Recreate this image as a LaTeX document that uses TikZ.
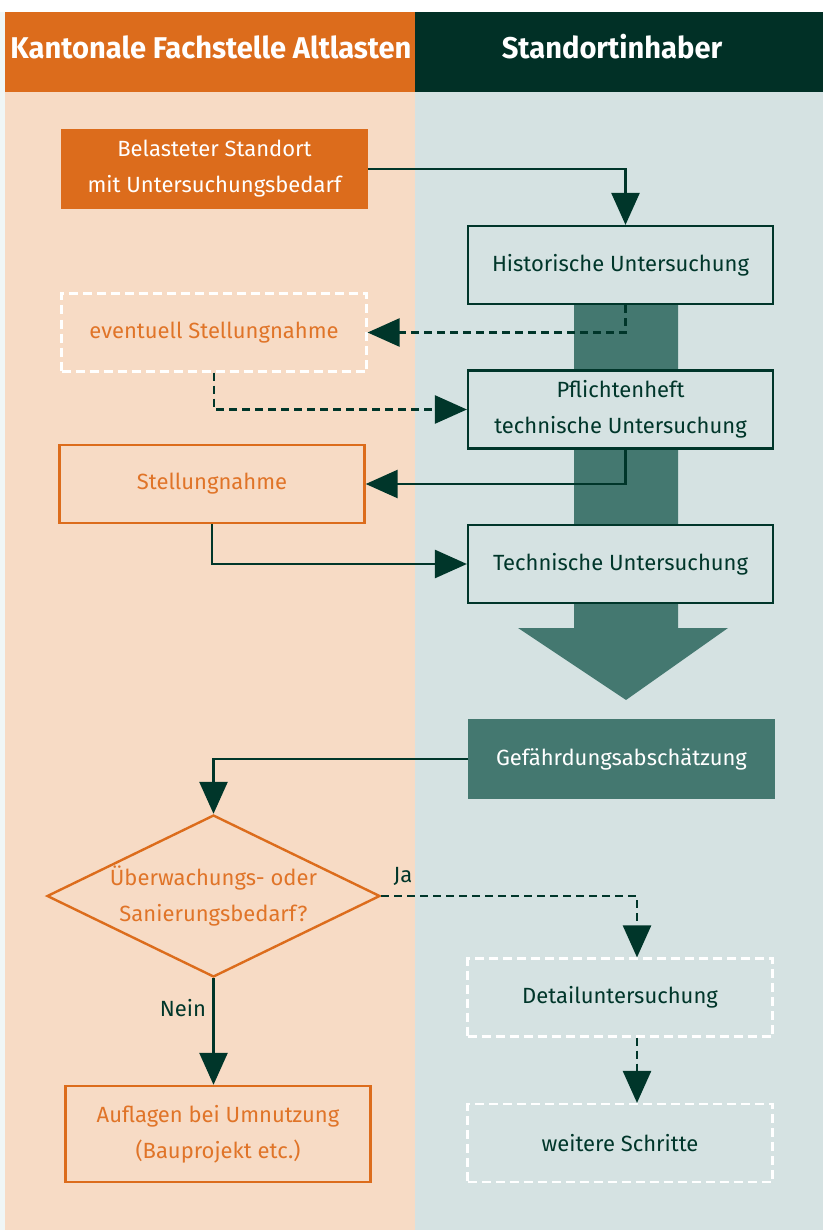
\documentclass[tikz,border=0pt]{standalone}
\usepackage{fontspec}
\setmainfont{Fira Sans}
\newfontfamily\headfnt[FakeStretch=0.97]{Fira Sans}
\usetikzlibrary{arrows.meta,shapes.geometric}
\definecolor{orng}{HTML}{DC6C1C}
\definecolor{orngt}{HTML}{E07428}
\definecolor{hdark}{HTML}{013026}
\definecolor{peach}{HTML}{F7DBC5}
\definecolor{lblue}{HTML}{D5E2E2}
\definecolor{edgec}{HTML}{F0F6F6}
\definecolor{lnk}{HTML}{00362A}
\definecolor{tealc}{HTML}{447870}
\newcommand\mybody{\fontsize{22}{36}\selectfont}
\begin{document}
\begin{tikzpicture}[x=1pt,y=-1pt,
  box/.style={rectangle, minimum width=305pt, minimum height=78pt, inner sep=0pt, align=center, font=\mybody},
  greenbox/.style={fill=lblue, draw=lnk, line width=2.2pt, text=lnk},
  obox/.style={draw=orng, line width=2.4pt, text=orngt},
  dbox/.style={draw=white, line width=2.2pt, dash pattern=on 9pt off 5pt},
  conn/.style={draw=lnk, line width=2.6pt, -{Triangle[length=32pt,width=28pt]}},
  dconn/.style={conn, dash pattern=on 8pt off 5pt},
  hdr/.style={text=white, font=\headfnt\bfseries\fontsize{30}{34}\selectfont, inner sep=0pt},
  lbl/.style={text=lnk, font=\mybody, inner sep=0pt}]
\useasboundingbox (0,0) rectangle (829,1230);
\fill[white] (0,0) rectangle (829,1230);
\fill[edgec] (0,12) rectangle (5,1230);
\fill[peach] (5,92) rectangle (415,1230);
\fill[lblue] (415,92) rectangle (823,1230);
\fill[orng] (5,12) rectangle (415,92);
\fill[hdark] (415,12) rectangle (823,92);
\node[hdr] (h1) at (211,47) {Kantonale Fachstelle Altlasten};
\node[hdr] (h2) at (612,47) {Standortinhaber};
% big arrow
\fill[tealc] (574,304) -- (678,304) -- (678,628) -- (728,628) -- (626,700) -- (518,628) -- (574,628) -- cycle;
% nodes
\node[box, fill=orng, text=white, minimum width=307pt, minimum height=80pt] (bel) at (214.5,169) {Belasteter Standort\\mit Untersuchungsbedarf};
\node[box, greenbox] (hist) at (620.5,265) {Historische Untersuchung};
\node[box, dbox, text=orngt] (evt) at (214,332.5) {eventuell Stellungnahme};
\node[box, greenbox] (pfl) at (620.5,409.5) {Pflichtenheft\\technische Untersuchung};
\node[box, obox] (stn) at (212,484) {Stellungnahme};
\node[box, greenbox] (tech) at (620.5,564) {Technische Untersuchung};
\node[box, fill=tealc, text=white, minimum width=307pt, minimum height=80pt] (gef) at (621.5,759) {Gefährdungsabschätzung};
\node[diamond, draw=orng, line width=2.4pt, text=orngt, font=\mybody, align=center, inner sep=0pt, aspect=2.05, minimum width=333pt, minimum height=162pt] (dia) at (213.5,896) {Überwachungs- oder\\Sanierungsbedarf?};
\node[box, dbox, text=lnk] (det) at (620,997.5) {Detailuntersuchung};
\node[box, dbox, text=lnk] (wei) at (620,1143) {weitere Schritte};
\node[box, obox, minimum height=96pt] (auf) at (218,1134) {Auflagen bei Umnutzung\\(Bauprojekt etc.)};
% connectors
\draw[conn] (bel.east) -| ([xshift=5pt]hist.north);
\draw[dconn] ([xshift=5pt]hist.south) |- (evt.east);
\draw[dconn] (evt.south) |- (pfl.west);
\draw[conn] ([xshift=5pt]pfl.south) |- (stn.east);
\draw[conn] (stn.south) |- (tech.west);
\draw[conn] (gef.west) -| (dia.north);
\draw[dconn] (dia.east) -| ([xshift=17pt]det.north);
\draw[dconn] ([xshift=17pt]det.south) -- ([xshift=17pt]wei.north);
\draw[conn] (dia.south) -- (dia.south |- auf.north);
\node[lbl] (ja) at (403,876) {Ja};
\node[lbl] (nein) at (183,1008) {Nein};
\end{tikzpicture}
\end{document}
